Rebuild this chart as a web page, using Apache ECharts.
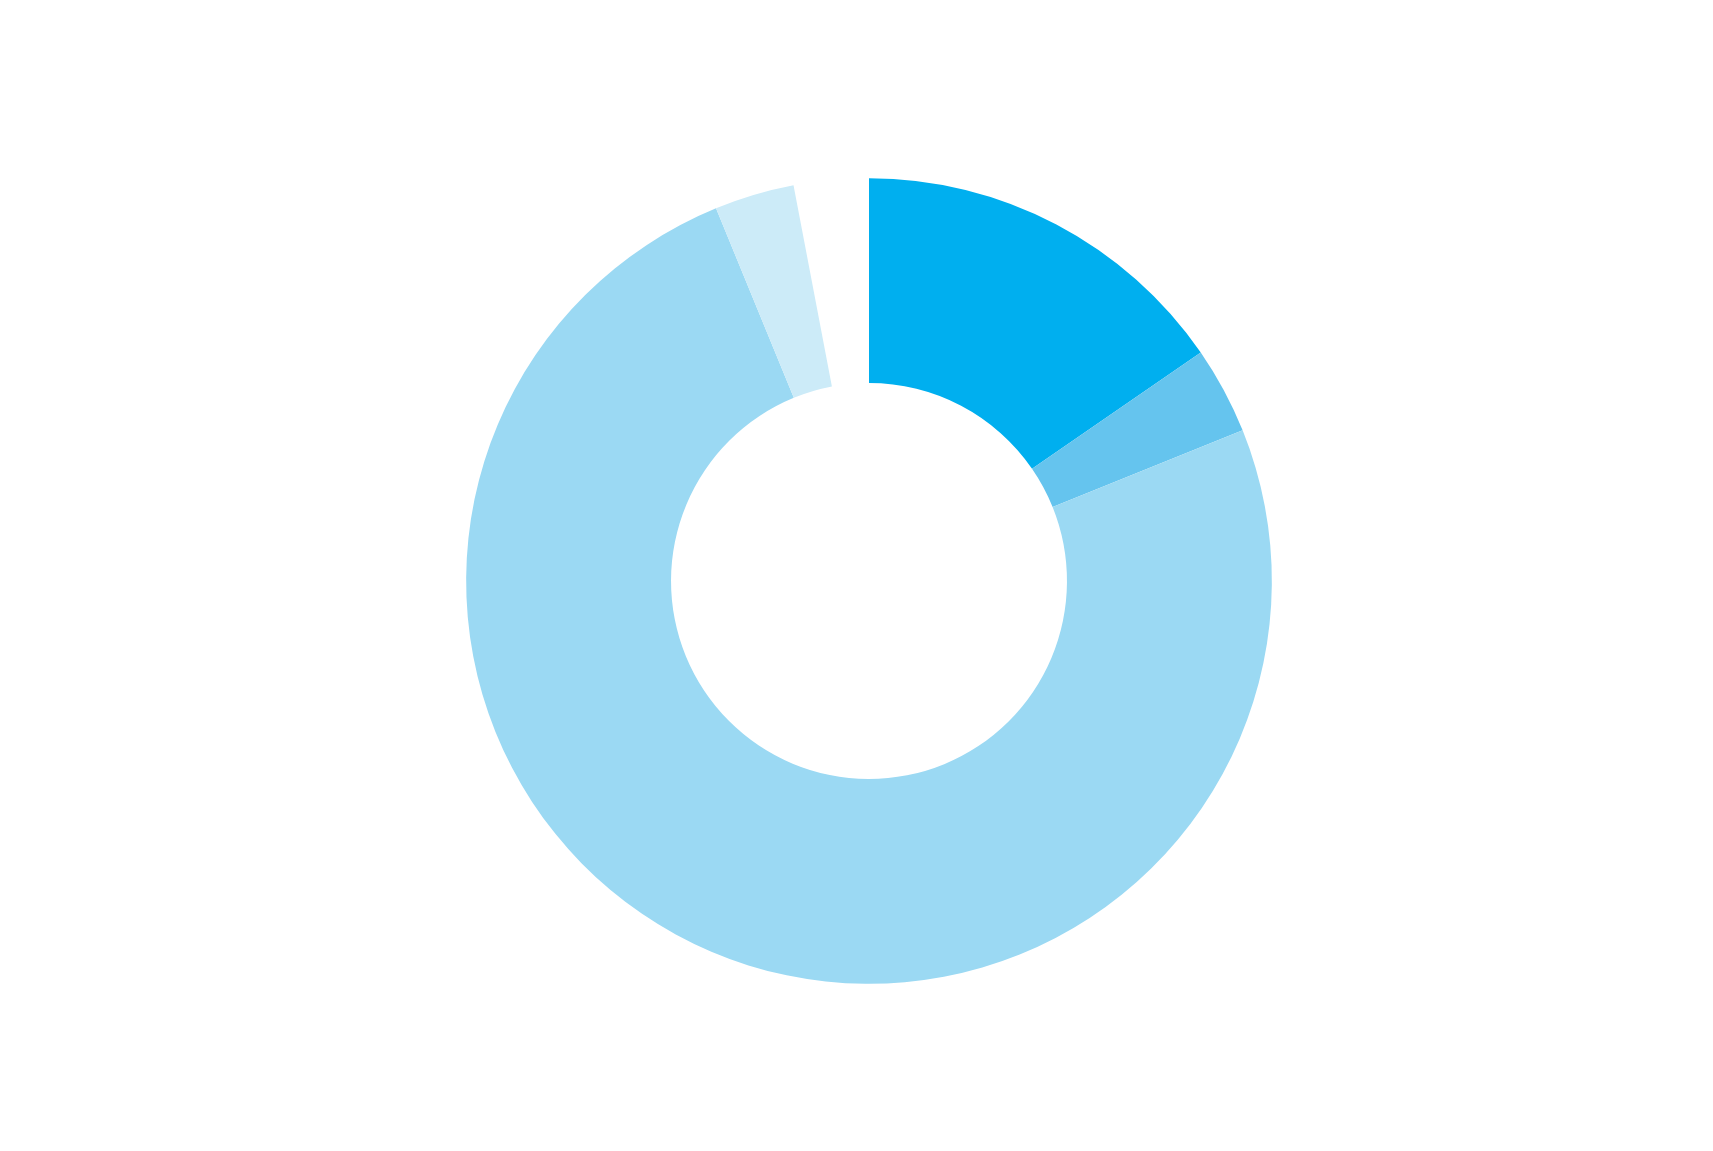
<!DOCTYPE html>
<html>
<head>
<meta charset="utf-8">
<script src="https://cdn.jsdelivr.net/npm/echarts@6/dist/echarts.min.js"></script>
<style>html,body{margin:0;padding:0;background:#fff;}#c{width:1713px;height:1151px;}</style>
</head>
<body>
<div id="c"></div>
<script>
const categories = ['A', 'B', 'C', 'D', 'Gap'];
const values = [15.4, 3.5, 74.9, 3.2, 3.0];
const colors = ['#00AFEF', '#65C4EE', '#9BD9F3', '#CCEBF8', 'rgba(0,0,0,0)'];

const chart = echarts.init(document.getElementById('c'), null, {renderer: 'canvas'});
chart.setOption({
  backgroundColor: '#ffffff',
  animation: false,
  series: [{
    type: 'pie',
    center: [869, 581],
    radius: ['34.4%', '70%'],
    startAngle: 90,
    clockwise: true,
    avoidLabelOverlap: false,
    label: {show: false},
    labelLine: {show: false},
    emphasis: {disabled: true},
    data: categories.map((c, i) => ({
      name: c,
      value: values[i],
      itemStyle: {color: colors[i], borderWidth: 0}
    }))
  }]
});
</script>
</body>
</html>
